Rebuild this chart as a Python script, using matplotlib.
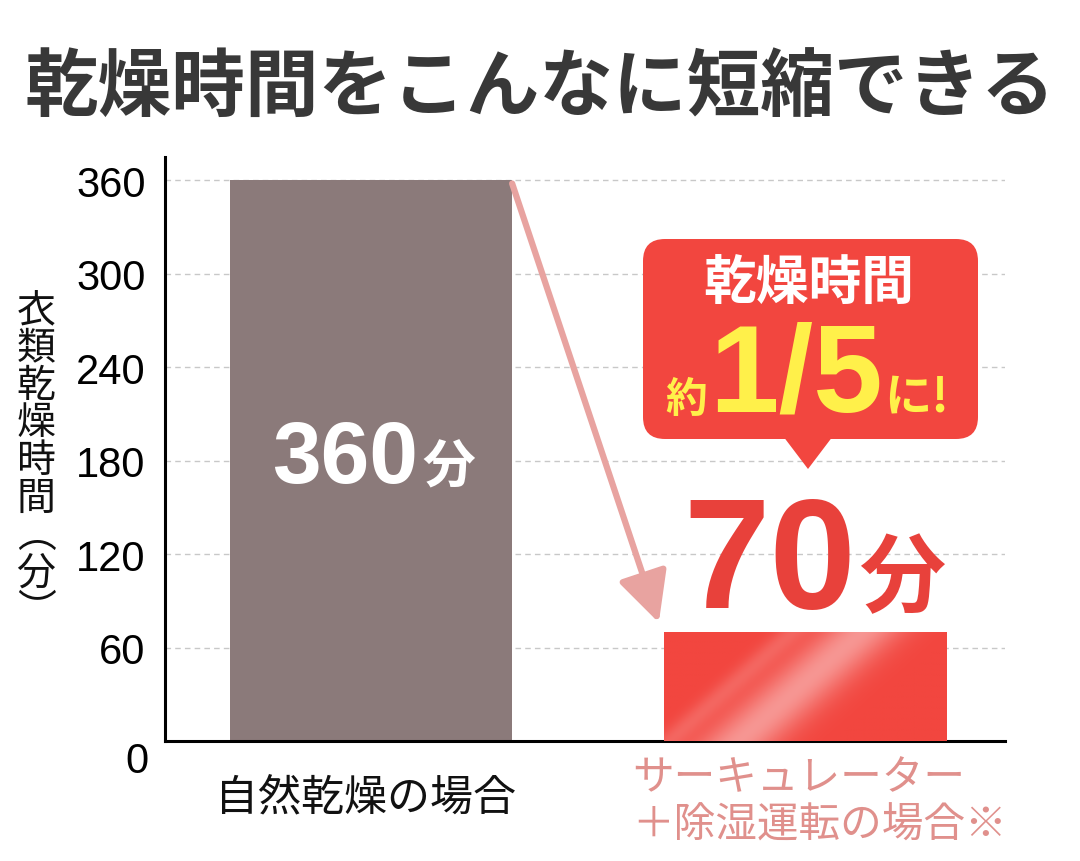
import numpy as np
import matplotlib
matplotlib.use("Agg")
import matplotlib.pyplot as plt
from matplotlib.patches import FancyBboxPatch, Polygon
from matplotlib.colors import LinearSegmentedColormap

# data
categories = ["自然乾燥の場合", "サーキュレーター\n＋除湿運転の場合※"]
minutes = [360, 70]
yticks = [60, 120, 180, 240, 300, 360]
ylabel_chars = ["衣", "類", "乾", "燥", "時", "間", "︵", "分", "︶"]

JP = ["Noto Sans CJK JP", "DejaVu Sans"]
NUM = ["Liberation Sans", "Noto Sans CJK JP", "DejaVu Sans"]
plt.rcParams["font.family"] = JP

brown = "#8b7a7a"
red = "#f2463f"
pink = "#e8a3a0"
yellow = "#fff04a"

fig = plt.figure(figsize=(10.8, 8.62), dpi=100)
ax = fig.add_axes([0.1528, 0.1392, 0.7778, 0.6775])


def px(x, y):
    # figure fraction from pixel position (top-left origin)
    return x / 1080, (862 - y) / 862


width = 0.65
bars = ax.bar([0, 1], minutes, width=width, color=[brown, red], zorder=2)

# glossy streak on the red bar
b = bars[1]
X, Y = np.meshgrid(np.linspace(0, 282, 300), np.linspace(0, 108, 120))
s = X - 1.14 * Y
t = 0.7 * np.exp(-((s - 75) / 40) ** 2) + 0.25 * np.exp(-((s - 5) / 16) ** 2)
t = np.clip(t, 0, 1)
cmap = LinearSegmentedColormap.from_list("gloss", [red, "#f9b8b6"])
img = ax.imshow(t, cmap=cmap, vmin=0, vmax=1, origin="lower", aspect="auto",
                extent=(b.get_x(), b.get_x() + width, 0, minutes[1]), zorder=3,
                interpolation="bilinear")
img.set_clip_path(b)

ax.set_xlim(-0.475, 1.461)
ax.set_ylim(0, 375)
ax.set_yticks(yticks)
ax.set_yticklabels([str(v) for v in yticks], family=NUM, fontsize=30)
ax.tick_params(axis="y", length=0, pad=14)
ax.set_xticks([])
ax.grid(axis="y", linestyle=(0, (4, 3)), color="#c8c8c8", linewidth=1, zorder=0)
for sp in ["top", "right"]:
    ax.spines[sp].set_visible(False)
ax.spines["left"].set_linewidth(2.2)
ax.spines["bottom"].set_linewidth(2.2)
ax.text(-0.02, 0, "0", transform=ax.get_yaxis_transform(), ha="right", va="top",
        family=NUM, fontsize=30)

# arrow from bar 1 top to bar 2
ax.annotate("", xy=(1 - width / 2 - 0.012, minutes[1] + 6),
            xytext=(width / 2, minutes[0] - 2),
            arrowprops=dict(arrowstyle="-|>,head_length=1.4,head_width=0.7",
                            lw=4.5, color=pink, shrinkA=0, shrinkB=0,
                            mutation_scale=22), zorder=4)

# value labels
fig.text(*px(418, 483), "360", ha="right", va="baseline", color="white",
         fontsize=63, fontweight="bold", family=NUM)
fig.text(*px(422, 483), "分", ha="left", va="baseline", color="white",
         fontsize=38, fontweight="bold")
fig.text(*px(856, 608), "70", ha="right", va="baseline", color="#e8413b",
         fontsize=112, fontweight="bold", family=NUM)
fig.text(*px(859, 606), "分", ha="left", va="baseline", color="#e8413b",
         fontsize=62, fontweight="bold")

# x labels
fig.text(*px(366, 798), categories[0], ha="center", va="center",
         fontsize=31, color="#111111")
fig.text(*px(632, 802), categories[1], ha="left", va="center",
         fontsize=30, color="#e0908c", linespacing=1.2)

# y label stacked vertically
for i, ch in enumerate(ylabel_chars):
    fig.text(*px(36, 311 + i * 37.5), ch, ha="center", va="center",
             fontsize=28, color="#111111")

# title
fig.text(*px(540, 90), "乾燥時間をこんなに短縮できる", ha="center",
         va="center", fontsize=53, fontweight="bold", color="#383838")

# speech bubble
tr = fig.dpi_scale_trans
box = FancyBboxPatch((6.43, 4.22), 3.35, 2.0,
                     boxstyle="round,pad=0,rounding_size=0.22",
                     transform=tr, facecolor=red, edgecolor="none", zorder=5)
fig.patches.append(box)
tail = Polygon([(7.83, 4.25), (8.33, 4.25), (8.08, 3.92)], closed=True,
               transform=tr, facecolor=red, edgecolor="none", zorder=5)
fig.patches.append(tail)
fig.text(*px(809, 283), "乾燥時間", ha="center", va="center",
         fontsize=38, fontweight="bold", color="white", zorder=6)
fig.text(*px(707, 412), "約", ha="right", va="baseline", fontsize=30,
         fontweight="bold", color=yellow, zorder=6)
fig.text(*px(796, 412), "1/5", ha="center", va="baseline", fontsize=90,
         fontweight="bold", color=yellow, family=NUM, zorder=6)
fig.text(*px(884, 412), "に!", ha="left", va="baseline", fontsize=34,
         fontweight="bold", color=yellow, zorder=6)

fig.savefig("out.png", dpi=100)
